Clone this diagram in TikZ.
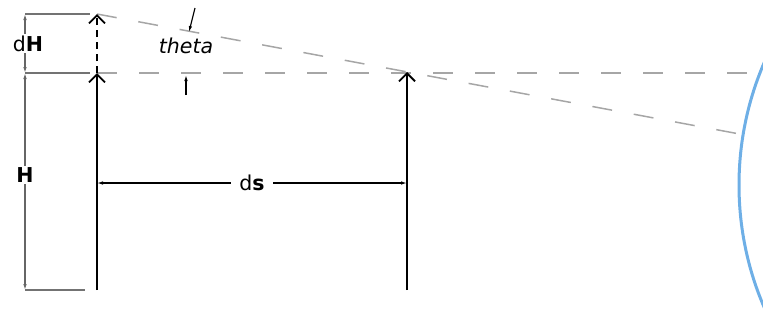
\documentclass[tikz,border=0pt]{standalone}
\usepackage{fontspec}
\setmainfont{DejaVu Sans}
\usetikzlibrary{arrows.meta, positioning}

\begin{document}
\begin{tikzpicture}[
    x=1pt, y=-1pt,
    pole/.style={line width=1.8pt, -{Straight Barb[length=8pt, width=16pt, line width=1.8pt]}},
    sight/.style={draw=black!35, line width=1.5pt, dash pattern=on 20pt off 22pt},
    ext/.style={draw=black!55, line width=1.3pt},
    dim/.style={line width=1.1pt, {Latex[length=6pt, width=3.5pt]}-{Latex[length=6pt, width=3.5pt]}},
    lbl/.style={font=\fontsize{20.5}{24}\selectfont, inner sep=2pt, fill=white},
]
\useasboundingbox (0,0) rectangle (763,325);

% poles
\coordinate (base1) at (97,290);
\coordinate (top1) at (97,73);
\coordinate (tip1) at (97,14);
\coordinate (base2) at (407,290);
\coordinate (top2) at (407,72);
\coordinate (hit1) at (758,73);
\coordinate (hit2) at (745,135);

% earth surface
\begin{scope}
\clip (0,0) rectangle (763,325);
\draw[draw={rgb,255:red,110;green,175;blue,230}, line width=3pt] (1048,185) circle (309);
\end{scope}

% lines of sight
\draw[sight] (top1) -- (hit1);
\draw[sight] (tip1) -- (hit2);

\draw[pole] (base1) -- (top1);
\draw[pole, dash pattern=on 7pt off 5pt] (top1) -- (tip1);
\draw[pole] (base2) -- (top2);

% extension lines
\coordinate (e0) at (25,14);
\coordinate (e1) at (25,73);
\coordinate (e2) at (25,290);
\draw[ext] (e0) -- (90,14);
\draw[ext] (e1) -- (90,73);
\draw[ext] (e2) -- (85,290);

% dimensions
\draw[dim, draw=black!60] (e0) -- node[lbl, xshift=3pt] (dH) {d\textbf{H}} (e1);
\draw[dim, draw=black!60] (e1) -- node[lbl, pos=0.47] (H) {\textbf{H}} (e2);
\coordinate (d1) at (97,183);
\coordinate (d2) at (407,183);
\draw[dim] (d1) -- node[lbl, inner xsep=8pt] (ds) {d\textbf{s}} (d2);

% angle
\node[lbl, fill=none, font=\fontsize{20.5}{24}\selectfont\itshape] (theta) at (186,46) {theta};
\coordinate (a1) at (195,8);
\coordinate (a2) at (189,32);
\coordinate (b1) at (186,95);
\coordinate (b2) at (186,75);
\draw[line width=1.1pt, -{Latex[length=6pt, width=3.5pt]}] (a1) -- (a2);
\draw[line width=1.1pt, -{Latex[length=6pt, width=3.5pt]}] (b1) -- (b2);

\end{tikzpicture}
\end{document}
